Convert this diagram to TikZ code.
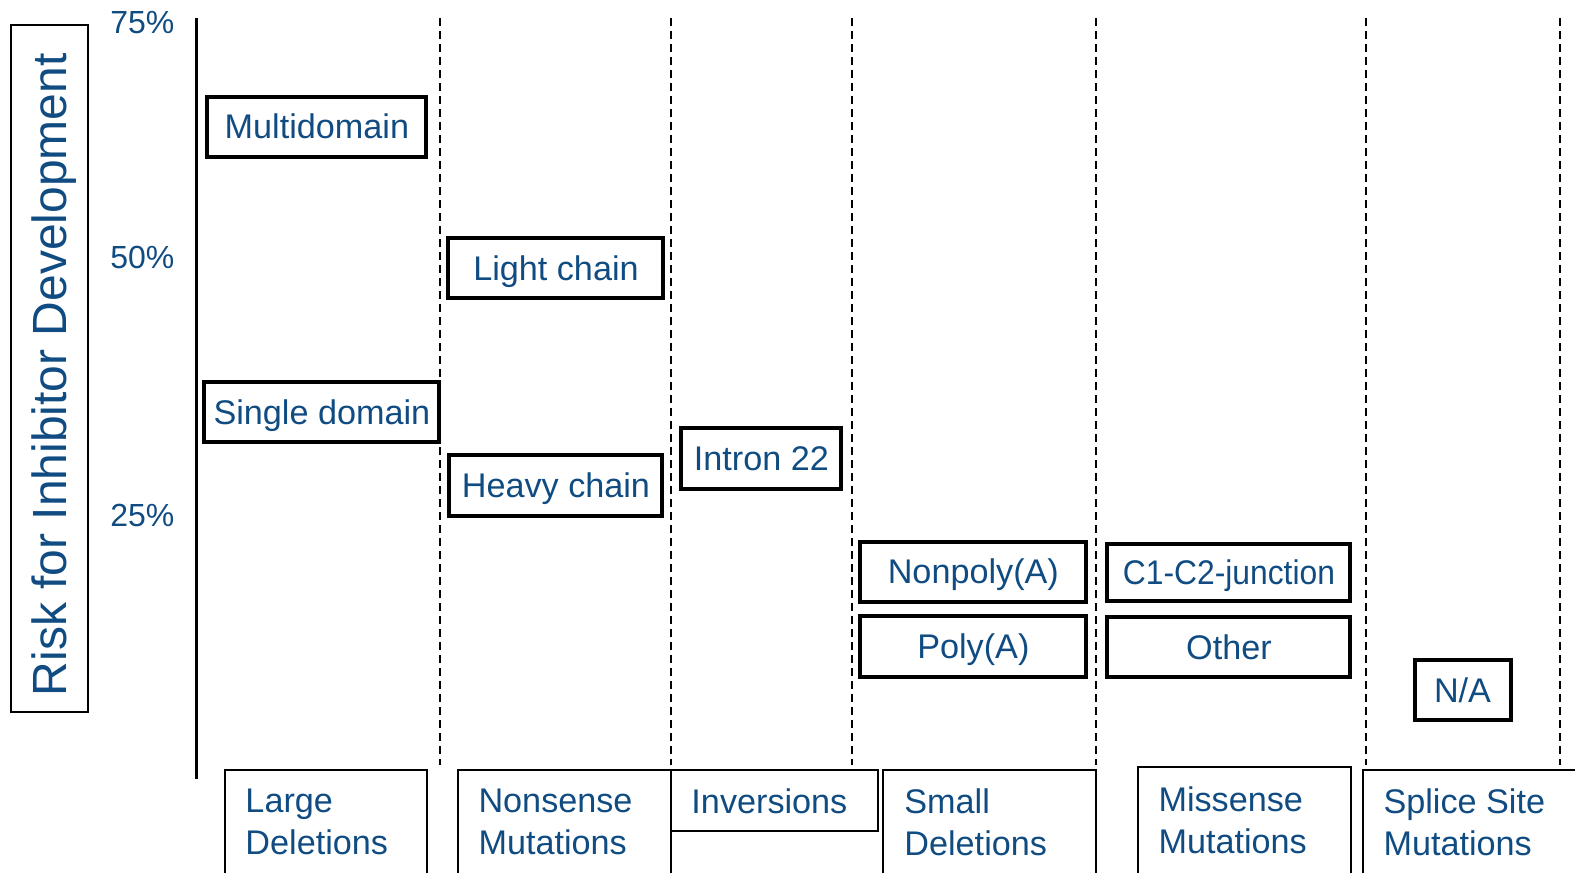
\documentclass[tikz,border=0pt]{standalone}
\usepackage{fontspec}
\setmainfont{Liberation Sans}
\usetikzlibrary{positioning}
\definecolor{labelblue}{RGB}{16,76,130}
\def \riskStr {Risk for Inhibitor Development}
\def \multiStr {Multidomain}
\def \singleStr {Single domain}
\def \lightStr {Light chain}
\def \heavyStr {Heavy chain}
\def \intronStr {Intron 22}
\def \nonpolyStr {Nonpoly(A)}
\def \polyStr {Poly(A)}
\def \junctionStr {\scalebox{0.93}[1]{C1-C2-junction}}
\def \otherStr {Other}
\def \naStr {N/A}
\def \boxFont {\fontsize{17.1}{21.1}\selectfont}

\begin{document}
\begin{tikzpicture}[x=0.50223pt, y=-0.50223pt,
  risktext/.style={text=labelblue, font=\boxFont},
  riskbox/.style={risktext, draw=black, line width=2pt, inner sep=0pt, text height=12.3pt, text depth=0pt, anchor=center},
  catbox/.style={draw=black, line width=1pt},
  cattext/.style={text=labelblue, font=\boxFont, align=left, anchor=north west, inner sep=0pt},
  ticktext/.style={text=labelblue, font=\fontsize{16}{19}\selectfont, anchor=east, inner sep=0pt},
  divider/.style={line width=0.75pt, dash pattern=on 4pt off 2.5pt}]

\useasboundingbox (0,0) rectangle (1568,869);

% axis label and ticks
\draw[line width=1pt] (11,25) rectangle (88,709);
\node[text=labelblue, font=\fontsize{24}{28}\selectfont, rotate=90] (risk) at (54,373) {\riskStr};
\node[ticktext] (t75) at (174,22) {75\%};
\node[ticktext] (t50) at (174,256) {50\%};
\node[ticktext] (t25) at (174,513) {25\%};
\draw[line width=1.5pt] (196,18) -- (196,776);

% column dividers
\foreach \xd in {438,668,848,1091,1360,1553}
  \draw[divider] (\xd,18) -- (\xd,762);

% risk boxes
\node[riskbox, minimum width=109.5pt, minimum height=30pt] (multi) at (315.5,126) {\multiStr};
\node[riskbox, minimum width=117.5pt, minimum height=30pt] (single) at (320.5,410) {\singleStr};
\node[riskbox, minimum width=107.5pt, minimum height=30pt] (light) at (553.5,267) {\lightStr};
\node[riskbox, minimum width=106.5pt, minimum height=30.5pt] (heavy) at (553.5,483.5) {\heavyStr};
\node[riskbox, minimum width=80pt, minimum height=30.5pt] (intron) at (758,456.5) {\intronStr};
\node[riskbox, minimum width=113pt, minimum height=30pt] (nonpoly) at (969,569) {\nonpolyStr};
\node[riskbox, minimum width=113pt, minimum height=30.5pt] (poly) at (969,643.5) {\polyStr};
\node[riskbox, minimum width=121.5pt, minimum height=28.5pt] (junction) at (1223.5,569.5) {\junctionStr};
\node[riskbox, minimum width=121.5pt, minimum height=30pt] (other) at (1223.5,644) {\otherStr};
\node[riskbox, minimum width=48pt, minimum height=30pt] (na) at (1456,687) {\naStr};

% mutation categories
\draw[catbox] (224,900) -- (224,767) -- (425,767) -- (425,900);
\node[cattext] (large) at (244,785) {Large\\Deletions};
\draw[catbox] (456,900) -- (456,767) -- (668,767) -- (668,900);
\node[cattext] (nonsense) at (476,785) {Nonsense\\Mutations};
\draw[catbox] (668,767) rectangle (874,827);
\node[cattext] (inversions) at (688,785) {Inversions};
\draw[catbox] (879,900) -- (879,767) -- (1091,767) -- (1091,900);
\node[cattext] (small) at (900,785) {Small\\Deletions};
\draw[catbox] (1133,900) -- (1133,764) -- (1345,764) -- (1345,900);
\node[cattext] (missense) at (1153,783) {Missense\\Mutations};
\draw[catbox] (1357,900) -- (1357,767) -- (1600,767);
\node[cattext] (splice) at (1377,785) {Splice Site\\Mutations};

\end{tikzpicture}
\end{document}
